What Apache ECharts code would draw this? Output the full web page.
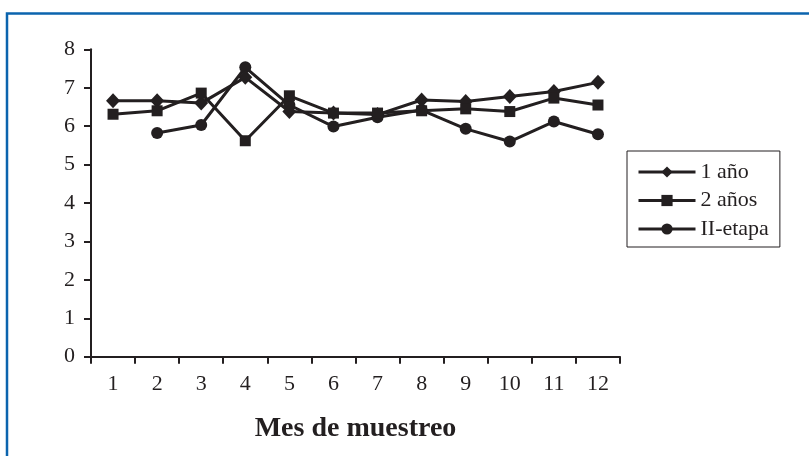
<!DOCTYPE html>
<html>
<head>
<meta charset="utf-8">
<script src="https://cdn.jsdelivr.net/npm/echarts@6/dist/echarts.min.js"></script>
<style>
html,body{margin:0;padding:0;background:#fff;}
#chart{width:809px;height:456px;}
</style>
</head>
<body>
<div id="chart"></div>
<script>
var months = ['1','2','3','4','5','6','7','8','9','10','11','12'];
var yTicks = [0,1,2,3,4,5,6,7,8];
var serie1Name = '1 año';
var serie2Name = '2 años';
var serie3Name = 'II-etapa';
var serie1 = [6.66, 6.66, 6.6, 7.27, 6.38, 6.34, 6.3, 6.68, 6.64, 6.77, 6.9, 7.14];
var serie2 = [6.31, 6.4, 6.86, 5.62, 6.79, 6.34, 6.34, 6.4, 6.45, 6.38, 6.73, 6.55];
var serie3 = [null, 5.82, 6.03, 7.53, 6.55, 5.99, 6.23, 6.42, 5.93, 5.6, 6.12, 5.79];
var xTitle = 'Mes de muestreo';

var ink = '#231f20';
var font = '"Liberation Serif", "Times New Roman", serif';

var chart = echarts.init(document.getElementById('chart'));
function mkSeries(name, data, symbol, size, z) {
  return {
    name: name, type: 'line', data: data, symbol: symbol, symbolSize: size,
    showAllSymbol: true, connectNulls: false, z: z,
    lineStyle: {color: ink, width: 3},
    itemStyle: {color: ink, borderWidth: 0},
    emphasis: {disabled: true},
    animation: false
  };
}
chart.setOption({
  animation: false,
  backgroundColor: '#fff',
  graphic: [{
    type: 'rect', silent: true, z: -10,
    shape: {x: 7, y: 13.5, width: 900, height: 600},
    style: {fill: 'none', stroke: '#0b64ae', lineWidth: 2.5}
  }],
  grid: {left: 91, right: 189, top: 49.3, bottom: 99.3, containLabel: false},
  legend: {
    orient: 'vertical', left: 627, top: 151,
    padding: [10, 11, 7, 10],
    itemWidth: 57, itemHeight: 14, itemGap: 6.5,
    borderColor: ink, borderWidth: 1, borderRadius: 0,
    backgroundColor: '#fff',
    lineStyle: {color: ink, width: 3},
    itemStyle: {color: ink, borderWidth: 0},
    textStyle: {fontFamily: font, fontSize: 22, color: ink},
    data: [serie1Name, serie2Name, serie3Name]
  },
  xAxis: {
    type: 'category', data: months, boundaryGap: true,
    axisLine: {lineStyle: {color: ink, width: 2}},
    axisTick: {show: true, length: 7, inside: false, lineStyle: {color: ink, width: 2}},
    axisLabel: {fontFamily: font, fontSize: 22, color: ink, margin: 17},
    name: xTitle, nameLocation: 'middle', nameGap: 58,
    nameTextStyle: {fontFamily: font, fontSize: 28, fontWeight: 'bold', color: ink},
    splitLine: {show: false}
  },
  yAxis: {
    type: 'value', min: yTicks[0], max: yTicks[yTicks.length - 1], interval: 1,
    axisLine: {show: true, lineStyle: {color: ink, width: 2}},
    axisTick: {show: true, length: 7, lineStyle: {color: ink, width: 2}},
    axisLabel: {fontFamily: font, fontSize: 22, color: ink, margin: 16},
    splitLine: {show: false}
  },
  series: [
    mkSeries(serie1Name, serie1, 'diamond', [14, 15], 3),
    mkSeries(serie2Name, serie2, 'rect', 11, 4),
    mkSeries(serie3Name, serie3, 'circle', 12, 2)
  ]
});
</script>
</body>
</html>
